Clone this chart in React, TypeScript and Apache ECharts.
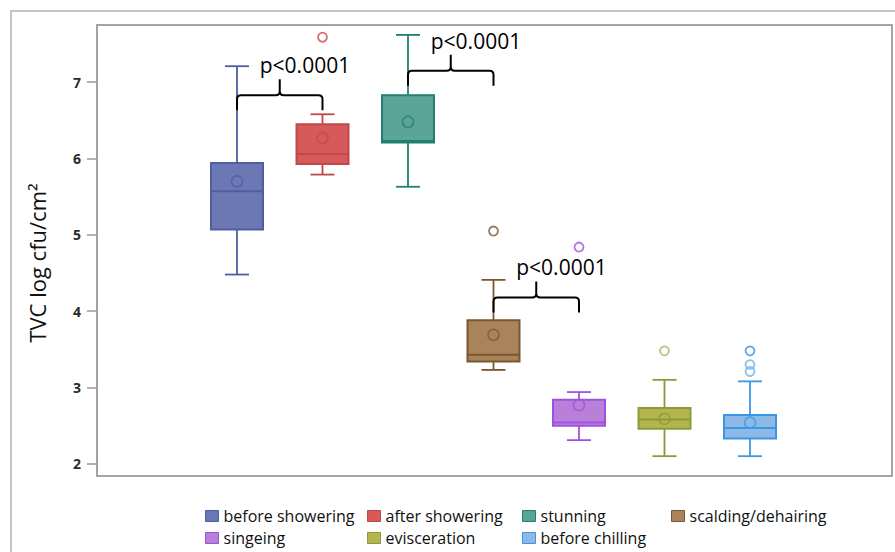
import React, { useEffect, useRef } from "react";
import * as echarts from "echarts";

const categories = [
  "before showering",
  "after showering",
  "stunning",
  "scalding/dehairing",
  "singeing",
  "evisceration",
  "before chilling",
];
const whiskerLow = [4.48, 5.79, 5.63, 3.23, 2.31, 2.1, 2.1];
const quartile1 = [5.07, 5.93, 6.21, 3.34, 2.5, 2.46, 2.33];
const medians = [5.57, 6.06, 6.23, 3.43, 2.54, 2.58, 2.47];
const quartile3 = [5.94, 6.45, 6.83, 3.88, 2.84, 2.73, 2.64];
const whiskerHigh = [7.21, 6.58, 7.62, 4.41, 2.94, 3.1, 3.08];
const means = [5.7, 6.27, 6.48, 3.69, 2.77, 2.59, 2.54];

const outlierCategory = [1, 3, 4, 5, 6, 6, 6];
const outlierValues = [7.59, 5.05, 4.84, 3.48, 3.48, 3.3, 3.21];
const outlierColors = ["#c94d4d", "#7b5a33", "#a04fe0", "#a9b463", "#2f8fe0", "#6cb2ee", "#6cb2ee"];

const bracketFrom = [0, 2, 3];
const bracketTo = [1, 3, 4];
const bracketLevel = [6.83, 7.15, 4.18];
const bracketLabels = ["p<0.0001", "p<0.0001", "p<0.0001"];

const yTicks = [2, 3, 4, 5, 6, 7];
const yTitle = "TVC log cfu/cm²";

const fills = ["#6b78b4", "#d65a5a", "#5ba596", "#a9845a", "#b980da", "#b3b64f", "#8cb9e6"];
const strokes = ["#4e5ea3", "#c04849", "#20806f", "#7a5632", "#a050e0", "#8c9a3c", "#3998e6"];

const legendCols = [205, 367, 522, 671];
const legendRows = [506, 528];
const legendSlots = [
  [0, 0], [1, 0], [2, 0], [3, 0],
  [0, 1], [1, 1], [2, 1],
];

const FONT = "'Open Sans', sans-serif";

export default function App() {
  const ref = useRef<HTMLDivElement>(null);
  useEffect(() => {
    if (!ref.current) return;
    const chart = echarts.init(ref.current, null, { renderer: "svg" });

    const boxSeries = categories.map((name, i) => ({
      type: "custom",
      name,
      xAxisIndex: 1,
      yAxisIndex: 1,
      encode: { x: 0, y: [1, 2, 3, 4, 5] },
      itemStyle: { color: fills[i], borderColor: strokes[i] },
      data: [[i, whiskerLow[i], quartile1[i], medians[i], quartile3[i], whiskerHigh[i]]],
      renderItem: (params: any, api: any) => {
        const c = api.value(0);
        const cx = api.coord([c, api.value(3)])[0];
        const yLow = api.coord([c, api.value(1)])[1];
        const yQ1 = api.coord([c, api.value(2)])[1];
        const yMed = api.coord([c, api.value(3)])[1];
        const yQ3 = api.coord([c, api.value(4)])[1];
        const yHigh = api.coord([c, api.value(5)])[1];
        const half = 26;
        const cap = 12;
        const ls = { stroke: strokes[i], lineWidth: 1.8 };
        return {
          type: "group",
          children: [
            { type: "line", shape: { x1: cx, y1: yHigh, x2: cx, y2: yQ3 }, style: ls },
            { type: "line", shape: { x1: cx, y1: yQ1, x2: cx, y2: yLow }, style: ls },
            { type: "line", shape: { x1: cx - cap, y1: yHigh, x2: cx + cap, y2: yHigh }, style: ls },
            { type: "line", shape: { x1: cx - cap, y1: yLow, x2: cx + cap, y2: yLow }, style: ls },
            {
              type: "rect",
              shape: { x: cx - half, y: yQ3, width: half * 2, height: yQ1 - yQ3 },
              style: { fill: fills[i], stroke: strokes[i], lineWidth: 2 },
            },
            { type: "line", shape: { x1: cx - half, y1: yMed, x2: cx + half, y2: yMed }, style: { stroke: strokes[i], lineWidth: 2 } },
          ],
        };
      },
    }));

    const bracketSeries = {
      type: "custom",
      name: "brackets",
      xAxisIndex: 1,
      yAxisIndex: 1,
      encode: { x: [0, 1], y: 2 },
      data: bracketFrom.map((f, k) => [f, bracketTo[k], bracketLevel[k], k]),
      renderItem: (params: any, api: any) => {
        const y = api.value(2);
        const x1 = api.coord([api.value(0), y])[0];
        const x2 = api.coord([api.value(1), y])[0];
        const yy = api.coord([api.value(0), y])[1];
        const xm = (x1 + x2) / 2;
        const r = 4;
        const drop = 15;
        const rise = 16;
        const d =
          `M${x1},${yy + drop} L${x1},${yy + r} Q${x1},${yy} ${x1 + r},${yy} L${xm - r},${yy} Q${xm},${yy} ${xm},${yy - r} L${xm},${yy - rise} ` +
          `M${xm},${yy - r} Q${xm},${yy} ${xm + r},${yy} L${x2 - r},${yy} Q${x2},${yy} ${x2},${yy + r} L${x2},${yy + drop}`;
        return {
          type: "group",
          children: [
            { type: "path", shape: { pathData: d }, style: { stroke: "#000", lineWidth: 2, fill: "none" } },
            {
              type: "text",
              x: xm - 20,
              y: yy - rise - 14,
              style: {
                text: bracketLabels[api.value(3)],
                fontSize: 21,
                fontFamily: FONT,
                fill: "#000",
                align: "left",
                verticalAlign: "middle",
              },
            },
          ],
        };
      },
    };

    const meanSeries = {
      type: "scatter",
      name: "mean",
      xAxisIndex: 1,
      yAxisIndex: 1,
      symbol: "circle",
      symbolSize: 11,
      z: 5,
      data: means.map((m, i) => ({
        value: [i, m],
        itemStyle: { color: "rgba(0,0,0,0)", borderColor: strokes[i], borderWidth: 1.5 },
      })),
    };

    const outlierSeries = {
      type: "scatter",
      name: "outliers",
      xAxisIndex: 1,
      yAxisIndex: 1,
      symbol: "circle",
      symbolSize: 9,
      z: 5,
      data: outlierValues.map((v, k) => ({
        value: [outlierCategory[k], v],
        itemStyle: { color: "rgba(0,0,0,0)", borderColor: outlierColors[k], borderWidth: 1.8 },
      })),
    };

    const legends = categories.map((name, i) => ({
      show: true,
      left: legendCols[legendSlots[i][0]],
      top: legendRows[legendSlots[i][1]],
      padding: 0,
      orient: "horizontal",
      itemWidth: 13,
      itemHeight: 11,
      icon: "rect",
      selectedMode: false,
      textStyle: { fontSize: 16, lineHeight: 20, fontFamily: FONT, color: "#111" },
      data: [
        {
          name,
          icon: "rect",
          itemStyle: { color: fills[i], borderColor: strokes[i], borderWidth: 1 },
        },
      ],
    }));

    chart.setOption({
      animation: false,
      backgroundColor: "#fff",
      textStyle: { fontFamily: FONT },
      grid: [
        {
          left: 97, top: 25, right: 3, bottom: 76,
          show: true, borderColor: "#a3a3a3", borderWidth: 2,
          outerBoundsMode: "none",
        },
        {
          left: 194.25, top: 25, right: 102.25, bottom: 76,
          show: false,
          outerBoundsMode: "none",
        },
      ],
      xAxis: [
        { type: "value", gridIndex: 0, show: false, min: 0, max: 1 },
        { type: "category", gridIndex: 1, show: false, data: categories, boundaryGap: true },
      ],
      yAxis: [
        {
          type: "value",
          gridIndex: 0,
          min: 1.84,
          max: 7.75,
          axisLine: { show: false },
          splitLine: { show: false },
          axisTick: {
            show: true,
            length: 10,
            lineStyle: { color: "#999", width: 1.5 },
            customValues: yTicks,
          },
          axisLabel: {
            show: true,
            margin: 16,
            fontSize: 14,
            fontWeight: "bold",
            color: "#2b2b2b",
            fontFamily: FONT,
            customValues: yTicks,
          },
        },
        { type: "value", gridIndex: 1, show: false, min: 1.84, max: 7.75, splitLine: { show: false } },
      ],
      legend: legends,
      graphic: [
        {
          type: "rect",
          shape: { x: 11, y: 11, width: 920, height: 600 },
          style: { fill: "none", stroke: "#b3b3b3", lineWidth: 1.5 },
          silent: true,
          z: -10,
        },
        {
          type: "text",
          x: 37,
          y: 263,
          rotation: Math.PI / 2,
          style: {
            text: yTitle,
            fontSize: 22,
            fontFamily: FONT,
            fill: "#111",
            align: "center",
            verticalAlign: "middle",
          },
        },
      ],
      series: [...boxSeries, meanSeries, outlierSeries, bracketSeries],
    });

    return () => chart.dispose();
  }, []);

  return (
    <div
      ref={ref}
      style={{ position: "fixed", left: 0, top: 0, width: 895, height: 552 }}
    />
  );
}
